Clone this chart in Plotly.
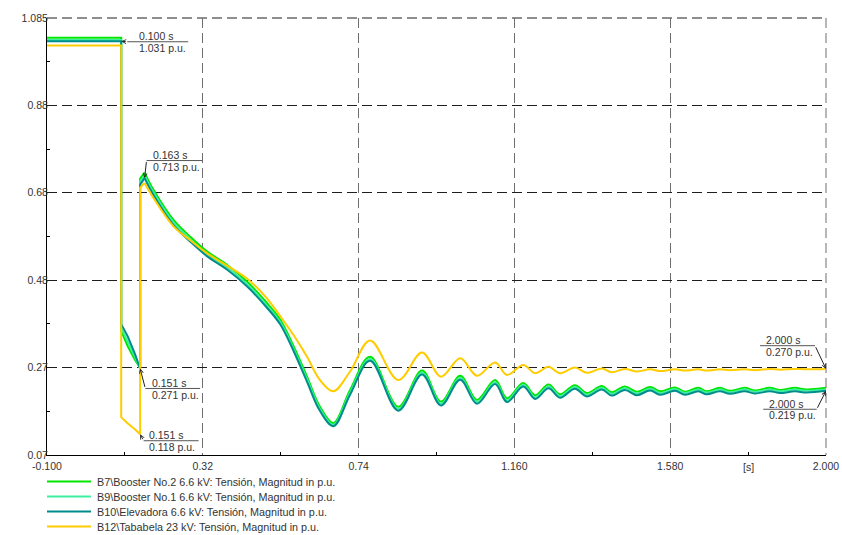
import plotly.graph_objects as go

# ---------------------------------------------------------------- data
# time axis (s) and bus voltages (p.u.) for the fault event:
# pre-fault steady state, fault at 0.100 s, clearing at 0.151 s
T_FAULT = [-0.1, 0.1, 0.1, 0.118, 0.137, 0.151, 0.151, 0.163]
B7_FAULT = [1.039, 1.039, 0.358, 0.322, 0.291, 0.272, 0.712, 0.726]
B9_FAULT = [1.034, 1.034, 0.366, 0.334, 0.298, 0.271, 0.705, 0.719]
B10_FAULT = [1.031, 1.031, 0.374, 0.345, 0.305, 0.271, 0.698, 0.713]
B12_FAULT = [1.021, 1.021, 0.158, 0.143, 0.130, 0.118, 0.691, 0.702]

# post-fault recovery and damped oscillation
T_POST = [0.163, 0.187, 0.241, 0.286, 0.331, 0.385, 0.439, 0.493, 0.529, 0.565,
          0.601, 0.636, 0.672, 0.717, 0.771, 0.847, 0.911, 0.962, 1.014, 1.059,
          1.108, 1.140, 1.184, 1.216, 1.252, 1.283, 1.323, 1.355, 1.396, 1.422,
          1.458, 1.490, 1.526, 1.553, 1.593, 1.620, 1.656, 1.678, 1.714, 1.741,
          1.781, 1.808, 1.849, 1.876, 1.916, 1.948, 2.000]
B7_POST = [0.726, 0.686, 0.616, 0.577, 0.543, 0.512, 0.473, 0.423, 0.384, 0.322,
           0.252, 0.182, 0.144, 0.221, 0.298, 0.182, 0.266, 0.194, 0.254, 0.198,
           0.244, 0.202, 0.237, 0.209, 0.234, 0.211, 0.232, 0.214, 0.230, 0.216,
           0.229, 0.217, 0.228, 0.218, 0.227, 0.217, 0.226, 0.218, 0.226, 0.219,
           0.226, 0.220, 0.226, 0.221, 0.226, 0.222, 0.226]
B9_POST = [0.719, 0.680, 0.610, 0.571, 0.537, 0.506, 0.467, 0.417, 0.378, 0.316,
           0.246, 0.177, 0.140, 0.215, 0.293, 0.177, 0.261, 0.189, 0.249, 0.193,
           0.239, 0.197, 0.233, 0.204, 0.229, 0.207, 0.228, 0.210, 0.226, 0.212,
           0.225, 0.213, 0.224, 0.214, 0.223, 0.214, 0.222, 0.215, 0.222, 0.216,
           0.222, 0.217, 0.222, 0.218, 0.222, 0.219, 0.222]
B10_POST = [0.713, 0.674, 0.604, 0.566, 0.532, 0.501, 0.462, 0.412, 0.373, 0.311,
            0.240, 0.172, 0.137, 0.210, 0.289, 0.173, 0.257, 0.185, 0.245, 0.189,
            0.235, 0.193, 0.229, 0.200, 0.225, 0.203, 0.224, 0.206, 0.222, 0.208,
            0.221, 0.209, 0.220, 0.210, 0.219, 0.210, 0.218, 0.211, 0.218, 0.212,
            0.218, 0.213, 0.218, 0.214, 0.218, 0.215, 0.219]
B12_POST = [0.702, 0.667, 0.601, 0.569, 0.539, 0.510, 0.480, 0.434, 0.392, 0.348,
            0.298, 0.244, 0.218, 0.264, 0.336, 0.244, 0.308, 0.252, 0.295, 0.254,
            0.285, 0.256, 0.279, 0.260, 0.275, 0.260, 0.273, 0.261, 0.271, 0.262,
            0.270, 0.264, 0.269, 0.265, 0.269, 0.266, 0.269, 0.266, 0.269, 0.267,
            0.269, 0.267, 0.270, 0.268, 0.270, 0.269, 0.270]

SERIES_NAMES = [
    "B7\\Booster No.2 6.6 kV: Tensión, Magnitud in p.u.",
    "B9\\Booster No.1 6.6 kV: Tensión, Magnitud in p.u.",
    "B10\\Elevadora 6.6 kV: Tensión, Magnitud in p.u.",
    "B12\\Tababela 23 kV: Tensión, Magnitud in p.u.",
]
SERIES_COLORS = ["#00e600", "#3cf0a0", "#008c8c", "#ffcc00"]

X_TICKS = [-0.1, 0.32, 0.74, 1.16, 1.58, 2.0]
X_LABELS = ["-0.100", "0.32", "0.74", "1.160", "1.580", "2.000"]
Y_TICKS = [0.07, 0.273, 0.476, 0.679, 0.882, 1.085]
Y_LABELS = ["0.07", "0.27", "0.48", "0.68", "0.88", "1.085"]

# cursor read-outs: (time, value)
MARKERS = [(0.100, 1.031), (0.163, 0.713), (0.151, 0.271),
           (0.151, 0.118), (2.000, 0.270), (2.000, 0.219)]

# ---------------------------------------------------------------- figure
FONT = "Liberation Sans, Arial, sans-serif"
TXT = "#333333"
HGRID = "#1e1e1e"
VGRID = "#6e6e6e"
DASH = "10px,5px"

fig = go.Figure()
fault_sets = [B7_FAULT, B9_FAULT, B10_FAULT, B12_FAULT]
post_sets = [B7_POST, B9_POST, B10_POST, B12_POST]
for name, color, yf, yp in zip(SERIES_NAMES, SERIES_COLORS, fault_sets, post_sets):
    fig.add_trace(go.Scatter(x=T_FAULT, y=yf, mode="lines", name=name,
                             legendgroup=name, showlegend=False,
                             line=dict(color=color, width=2)))
    fig.add_trace(go.Scatter(x=T_POST, y=yp, mode="lines", name=name,
                             legendgroup=name, showlegend=False,
                             line=dict(color=color, width=2, shape="spline",
                                       smoothing=1.0)))

minor_x = [(a + b) / 2 for a, b in zip(X_TICKS, X_TICKS[1:])]
minor_y = [(a + b) / 2 for a, b in zip(Y_TICKS, Y_TICKS[1:])]

fig.update_xaxes(range=[X_TICKS[0], X_TICKS[-1]], tickmode="array",
                 tickvals=X_TICKS, ticktext=X_LABELS, ticks="",
                 automargin=False, ticklabelstandoff=1,
                 showgrid=True, gridcolor=VGRID, gridwidth=1,
                 griddash=DASH, zeroline=False,
                 showline=True, linecolor="black", linewidth=1,
                 tickfont=dict(family=FONT, size=10.5, color=TXT),
                 minor=dict(tickmode="array", tickvals=minor_x, ticks="inside",
                            ticklen=3, tickcolor="black", showgrid=False))
fig.update_yaxes(range=[Y_TICKS[0], Y_TICKS[-1]], tickmode="array",
                 tickvals=Y_TICKS, ticktext=Y_LABELS, ticks="",
                 automargin=False, ticklabelstandoff=-4,
                 showgrid=True, gridcolor=HGRID, gridwidth=1,
                 griddash=DASH, zeroline=False,
                 showline=True, linecolor="black", linewidth=1,
                 tickfont=dict(family=FONT, size=10.5, color=TXT),
                 minor=dict(tickmode="array", tickvals=minor_y, ticks="inside",
                            ticklen=3, tickcolor="black", showgrid=False))

shapes = []
annotations = []

# dashed frame on the top and right edges (grid lines at the range ends)
shapes.append(dict(type="line", xref="paper", yref="paper", x0=0, x1=1, y0=1, y1=1,
                   line=dict(color=HGRID, width=1, dash=DASH), layer="below"))
shapes.append(dict(type="line", xref="paper", yref="paper", x0=1, x1=1, y0=1, y1=0,
                   line=dict(color=VGRID, width=1, dash=DASH), layer="below"))

# cursor call-outs: leader (dx, dy) in screen pixels to the rule,
# rule span (x0, x1) and text left offset, all relative to the point
CALLOUT_GEOM = [
    dict(lead=(6, 0.5), span=(6, 67), tx=16),
    dict(lead=(2, -17.6), span=(2, 57.5), tx=6),
    dict(lead=(5.2, 20), span=(5.2, 60), tx=9.5),
    dict(lead=(3.5, 6.4), span=(3.5, 58.5), tx=7),
    dict(lead=(-11, -23.2), span=(-66, -11), tx=-62.5),
    dict(lead=(-9.3, 18.4), span=(-62.7, -9.3), tx=-59.3),
]
for (t, v), g in zip(MARKERS, CALLOUT_GEOM):
    ldx, ldy = g["lead"]
    annotations.append(dict(x=t, y=v, xref="x", yref="y", text="",
                            showarrow=True, ax=ldx, ay=ldy, arrowhead=5,
                            arrowsize=0.8, arrowwidth=1, arrowcolor="#222222",
                            standoff=0))
    shapes.append(dict(type="line", xref="x", yref="y",
                       xsizemode="pixel", xanchor=t, x0=g["span"][0], x1=g["span"][1],
                       ysizemode="pixel", yanchor=v, y0=-ldy, y1=-ldy,
                       line=dict(color="#555555", width=1), layer="above"))
    for txt, off in ((f"{t:.3f} s", -5.5), (f"{v:.3f} p.u.", 6.2)):
        annotations.append(dict(x=t, y=v, xref="x", yref="y", text=txt,
                                showarrow=False, xanchor="left", yanchor="middle",
                                xshift=g["tx"], yshift=-(ldy + off),
                                font=dict(family=FONT, size=10.5, color=TXT)))

# time unit label on the axis
annotations.append(dict(x=1.79, y=0, xref="x", yref="paper", text="[s]",
                        showarrow=False, yanchor="middle", yshift=-12,
                        font=dict(family=FONT, size=10.5, color=TXT)))

# legend below the plot
for i, (name, color) in enumerate(zip(SERIES_NAMES, SERIES_COLORS)):
    dy = -26.5 - 15 * i
    shapes.append(dict(type="line", xref="paper", yref="paper",
                       xsizemode="pixel", xanchor=0, x0=0, x1=44,
                       ysizemode="pixel", yanchor=0, y0=dy, y1=dy,
                       line=dict(color=color, width=2)))
    annotations.append(dict(x=0, y=0, xref="paper", yref="paper", text=name,
                            showarrow=False, xanchor="left", yanchor="middle",
                            xshift=48, yshift=dy,
                            font=dict(family=FONT, size=10.8, color=TXT)))

fig.update_layout(width=842, height=535,
                  margin=dict(l=47, r=16, t=18, b=80, autoexpand=False),
                  paper_bgcolor="white", plot_bgcolor="white",
                  showlegend=False, shapes=shapes, annotations=annotations,
                  font=dict(family=FONT, color=TXT))

fig.write_html("out.html")
